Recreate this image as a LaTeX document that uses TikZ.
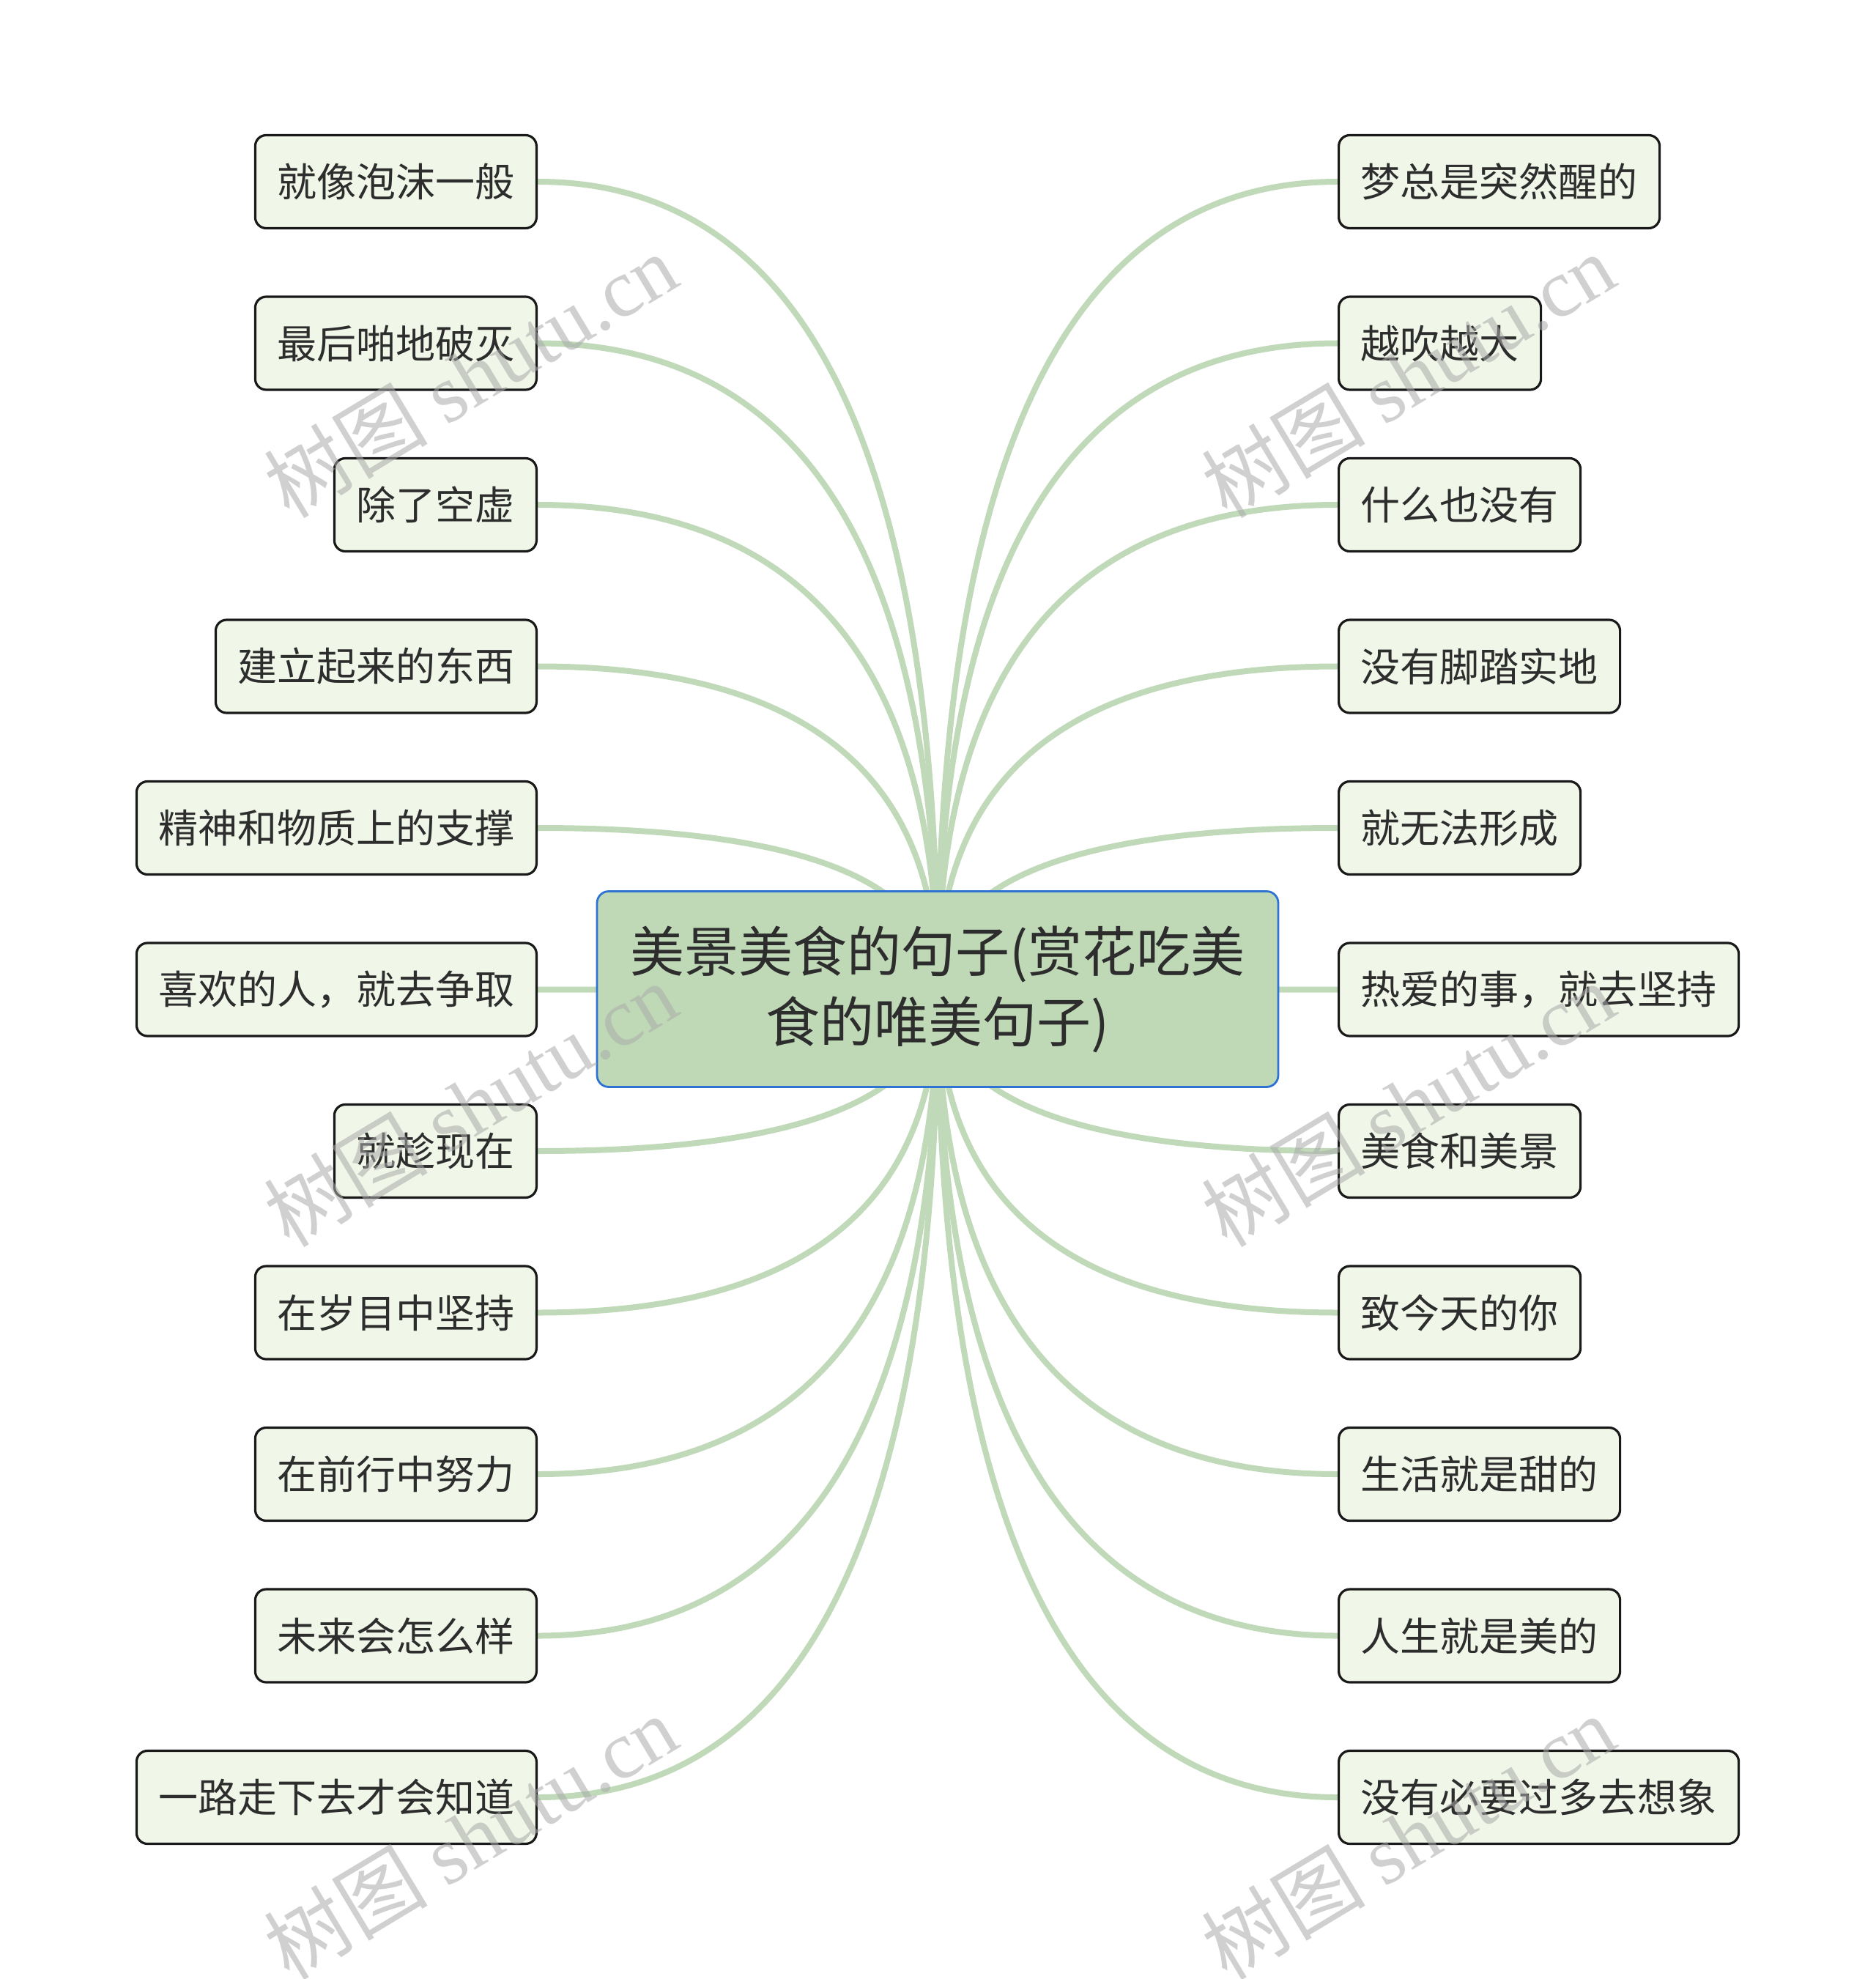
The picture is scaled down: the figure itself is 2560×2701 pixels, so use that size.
\documentclass[tikz,border=0pt]{standalone}
\usepackage{fontspec}
\setmainfont{Noto Sans CJK SC}
\newfontfamily\wmlatin{Liberation Serif}
\usetikzlibrary{calc,backgrounds}
\definecolor{linkc}{RGB}{192,217,184}
\definecolor{leaffill}{RGB}{240,246,232}
\definecolor{leafdraw}{RGB}{25,25,25}
\definecolor{cfill}{RGB}{191,217,183}
\definecolor{cdraw}{RGB}{46,114,212}
\definecolor{txt}{RGB}{45,45,45}
\definecolor{wmc}{RGB}{170,170,170}
\tikzset{
  leaf/.style={draw=leafdraw, fill=leaffill, line width=1.6pt, rounded corners=7.5pt,
    minimum height=63.5pt, inner xsep=15pt, inner ysep=0pt, text=txt,
    font=\fontsize{27pt}{33pt}\selectfont},
  center/.style={draw=cdraw, fill=cfill, line width=1.4pt, rounded corners=8pt,
    minimum width=465pt, minimum height=133.5pt, align=center, text=txt,
    font=\fontsize{37pt}{48pt}\selectfont},
  link/.style={draw=linkc, line width=4pt},
  wm/.style={text=wmc, opacity=0.55, font=\fontsize{56pt}{62pt}\selectfont, rotate=31, inner sep=0pt}
}
\begin{document}
\begin{tikzpicture}[x=0.5pt,y=-0.5pt]
\useasboundingbox (0,0) rectangle (2560,2701);
\node[center] (c) at (1280,1350) {美景美食的句子(赏花吃美\\食的唯美句子)};
% left leaves
\node[leaf, anchor=east] (L1) at (734,248) {就像泡沫一般};
\node[leaf, anchor=east] (L2) at (734,468.5) {最后啪地破灭};
\node[leaf, anchor=east] (L3) at (734,689) {除了空虚};
\node[leaf, anchor=east] (L4) at (734,909.5) {建立起来的东西};
\node[leaf, anchor=east] (L5) at (734,1130) {精神和物质上的支撑};
\node[leaf, anchor=east] (L6) at (734,1350.5) {喜欢的人，就去争取};
\node[leaf, anchor=east] (L7) at (734,1571) {就趁现在};
\node[leaf, anchor=east] (L8) at (734,1791.5) {在岁目中坚持};
\node[leaf, anchor=east] (L9) at (734,2012) {在前行中努力};
\node[leaf, anchor=east] (L10) at (734,2232.5) {未来会怎么样};
\node[leaf, anchor=east] (L11) at (734,2453) {一路走下去才会知道};
% right leaves
\node[leaf, anchor=west] (R1) at (1826,248) {梦总是突然醒的};
\node[leaf, anchor=west] (R2) at (1826,468.5) {越吹越大};
\node[leaf, anchor=west] (R3) at (1826,689) {什么也没有};
\node[leaf, anchor=west] (R4) at (1826,909.5) {没有脚踏实地};
\node[leaf, anchor=west] (R5) at (1826,1130) {就无法形成};
\node[leaf, anchor=west] (R6) at (1826,1350.5) {热爱的事，就去坚持};
\node[leaf, anchor=west] (R7) at (1826,1571) {美食和美景};
\node[leaf, anchor=west] (R8) at (1826,1791.5) {致今天的你};
\node[leaf, anchor=west] (R9) at (1826,2012) {生活就是甜的};
\node[leaf, anchor=west] (R10) at (1826,2232.5) {人生就是美的};
\node[leaf, anchor=west] (R11) at (1826,2453) {没有必要过多去想象};
% links
\begin{scope}[on background layer]
\foreach \i in {1,...,11}{
  \coordinate (kL\i) at (c.center |- L\i.east);
  \draw[link] (c.center) .. controls ($(c.center)!0.6667!(kL\i)$) and ($(L\i.east)!0.6667!(kL\i)$) .. (L\i.east);
  \coordinate (kR\i) at (c.center |- R\i.west);
  \draw[link] (c.center) .. controls ($(c.center)!0.6667!(kR\i)$) and ($(R\i.west)!0.6667!(kR\i)$) .. (R\i.west);
}
\end{scope}
% watermarks
\foreach \px/\py in {642/512, 1922/512, 642/1507, 1922/1507, 642/2507, 1922/2507}{
  \node[wm] at (\px,\py) {树图 {\wmlatin shutu.cn}};
}
\end{tikzpicture}
\end{document}
